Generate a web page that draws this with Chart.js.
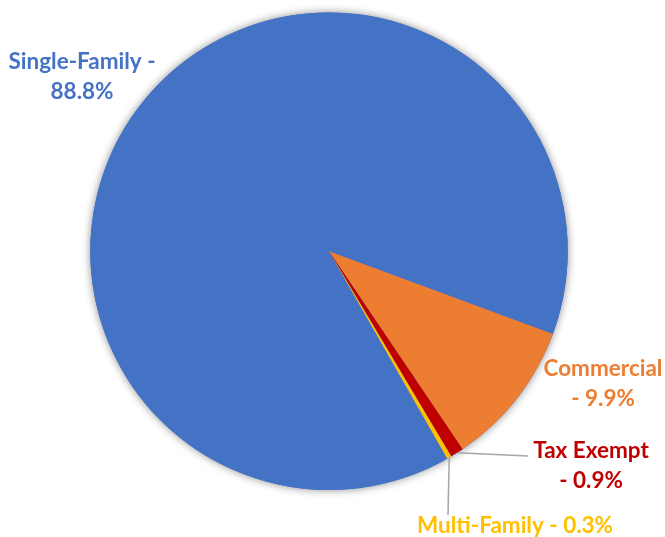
<!DOCTYPE html>
<html>
<head>
<meta charset="utf-8">
<script src="https://cdn.jsdelivr.net/npm/chart.js@4.4.1/dist/chart.umd.min.js"></script>
<style>
  html, body { margin: 0; padding: 0; background: #fff; }
  #wrap { width: 665px; height: 537px; }
</style>
</head>
<body>
<div id="wrap"><canvas id="chart" width="665" height="537"></canvas></div>
<script>
const categories = ['Single-Family', 'Commercial', 'Tax Exempt', 'Multi-Family'];
const shares = [88.8, 9.9, 0.9, 0.3];
const sliceColors = ['#4472C4', '#ED7D31', '#C00000', '#FFC000'];

const FONT = 'bold 22.5px Lato, "Open Sans", sans-serif';

// soft drop shadow behind the whole pie, drawn once so slices don't shade each other
const pieShadow = {
    id: 'pieShadow',
    beforeDatasetsDraw(chart) {
        const arc = chart.getDatasetMeta(0).data[0];
        if (!arc) return;
        const ctx = chart.ctx;
        ctx.save();
        ctx.shadowColor = 'rgba(0,0,0,0.45)';
        ctx.shadowBlur = 9;
        ctx.fillStyle = sliceColors[0];
        ctx.beginPath();
        ctx.arc(arc.x, arc.y, arc.outerRadius, 0, Math.PI * 2);
        ctx.fill();
        ctx.restore();
    }
};

// category labels, with leader lines for the two thin slices
const sliceLabels = {
    id: 'sliceLabels',
    afterDatasetsDraw(chart, args, opts) {
        const ctx = chart.ctx;
        const arcs = chart.getDatasetMeta(0).data;
        ctx.save();
        opts.items.forEach(item => {
            const arc = arcs[item.index];
            if (item.leader) {
                const mid = (arc.startAngle + arc.endAngle) / 2;
                const sx = arc.x + Math.cos(mid) * arc.outerRadius;
                const sy = arc.y + Math.sin(mid) * arc.outerRadius;
                ctx.strokeStyle = '#A6A6A6';
                ctx.lineWidth = 1.5;
                ctx.beginPath();
                ctx.moveTo(sx, sy);
                ctx.lineTo(item.leader[0], item.leader[1]);
                ctx.stroke();
            }
            ctx.font = FONT;
            ctx.fillStyle = sliceColors[item.index];
            ctx.textAlign = 'center';
            ctx.textBaseline = 'middle';
            item.lines.forEach((line, i) => {
                ctx.fillText(line, item.x, item.y + i * 29.5);
            });
        });
        ctx.restore();
    }
};

const pct = v => v.toFixed(1) + '%';

new Chart(document.getElementById('chart'), {
    type: 'pie',
    data: {
        labels: categories,
        datasets: [{
            data: shares,
            backgroundColor: sliceColors,
            borderWidth: 0
        }]
    },
    options: {
        responsive: false,
        animation: false,
        rotation: 150.3,
        layout: {
            padding: {left: 0, right: 7, top: 12.5, bottom: 47}
        },
        plugins: {
            legend: {display: false},
            tooltip: {enabled: false},
            sliceLabels: {
                items: [
                    {index: 0, x: 82, y: 62, lines: [categories[0] + ' -', pct(shares[0])]},
                    {index: 1, x: 603, y: 369, lines: [categories[1], '- ' + pct(shares[1])]},
                    {index: 2, x: 591, y: 451, lines: [categories[2], '- ' + pct(shares[2])], leader: [528, 456]},
                    {index: 3, x: 515, y: 526, lines: [categories[3] + ' - ' + pct(shares[3])], leader: [448, 515]}
                ]
            }
        }
    },
    plugins: [pieShadow, sliceLabels]
});
</script>
</body>
</html>
